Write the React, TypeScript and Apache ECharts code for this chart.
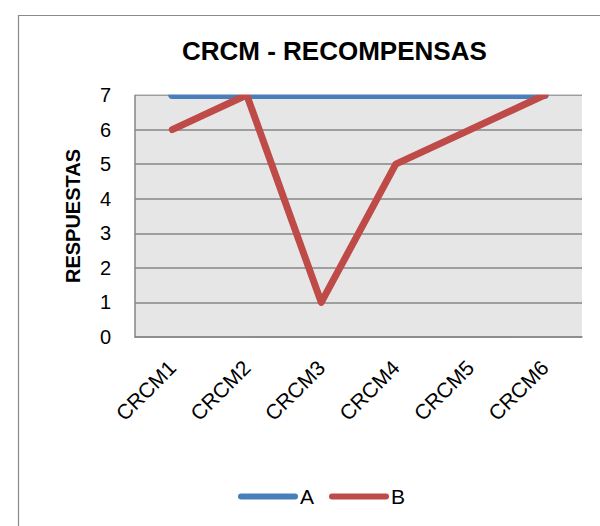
import React, { useEffect, useRef } from "react";
import * as echarts from "echarts";

const categories = ["CRCM1", "CRCM2", "CRCM3", "CRCM4", "CRCM5", "CRCM6"];
const seriesA = [7, 7, 7, 7, 7, 7];
const seriesB = [6, 7, 1, 5, 6, 7];
const yTicks = { min: 0, max: 7, interval: 1 };

const FONT = "'Liberation Sans', Arial, sans-serif";
const GRID = { left: 135, right: 18, top: 95, bottom: 189 };

export default function App() {
  const ref = useRef<HTMLDivElement>(null);
  useEffect(() => {
    if (!ref.current) return;
    const chart = echarts.init(ref.current, undefined, { renderer: "svg" });
    const pill = "path://M3,0 L57,0 A3,3 0 0 1 57,6 L3,6 A3,3 0 0 1 3,0 Z";
    chart.setOption({
      animation: false,
      backgroundColor: "#ffffff",
      title: {
        text: "CRCM - RECOMPENSAS",
        left: 177,
        top: 33,
        textStyle: { fontFamily: FONT, fontSize: 26, fontWeight: "bold", color: "#000" },
      },
      graphic: [
        {
          type: "rect",
          left: 16,
          top: 13,
          shape: { width: 700, height: 700 },
          style: { fill: "none", stroke: "#8a8a8a", lineWidth: 1.2 },
          silent: true,
          z: 0,
        },
        {
          type: "rect",
          shape: { x: GRID.left - 10, y: GRID.top - 12, width: 600 - GRID.left - GRID.right + 20, height: 11.5 },
          style: { fill: "#ffffff" },
          silent: true,
          z: 100,
        },
      ],
      legend: {
        data: [
          { name: "A", icon: pill },
          { name: "B", icon: pill },
        ],
        left: 233,
        top: 481,
        itemWidth: 60,
        itemHeight: 6,
        itemGap: 15,
        textStyle: { fontFamily: FONT, fontSize: 21, color: "#000", padding: [0, 0, 0, -3] },
      },
      grid: {
        ...GRID,
        show: true,
        backgroundColor: "#e6e6e6",
        borderWidth: 0,
      },
      xAxis: {
        type: "category",
        data: categories,
        boundaryGap: true,
        axisLine: { show: true, lineStyle: { color: "#868686", width: 1.5 } },
        axisTick: { show: false },
        axisLabel: {
          rotate: 45,
          margin: 27,
          interval: 0,
          fontFamily: FONT,
          fontSize: 21,
          color: "#000",
        },
      },
      yAxis: {
        type: "value",
        ...yTicks,
        name: "RESPUESTAS",
        nameLocation: "middle",
        nameGap: 52,
        nameTextStyle: { fontFamily: FONT, fontSize: 20, fontWeight: "bold", color: "#000" },
        axisLine: { show: true, lineStyle: { color: "#868686", width: 1.5 } },
        axisTick: { show: false },
        splitLine: { show: true, lineStyle: { color: "#868686", width: 1.5 } },
        axisLabel: { margin: 24, fontFamily: FONT, fontSize: 20, color: "#000" },
      },
      series: [
        {
          name: "A",
          type: "line",
          data: seriesA,
          symbol: "none",
          lineStyle: { color: "#4a7ebb", width: 8, cap: "round", join: "round" },
          itemStyle: { color: "#4a7ebb" },
        },
        {
          name: "B",
          type: "line",
          data: seriesB,
          symbol: "none",
          lineStyle: { color: "#be4b48", width: 7, cap: "round", join: "round" },
          itemStyle: { color: "#be4b48" },
        },
      ],
    });
    return () => chart.dispose();
  }, []);
  return (
    <div
      ref={ref}
      style={{ position: "absolute", left: 0, top: 0, width: 600, height: 526 }}
    />
  );
}
